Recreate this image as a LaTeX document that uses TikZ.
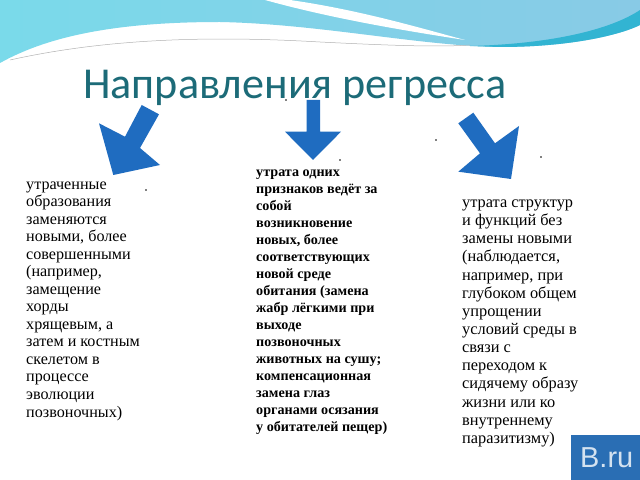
\documentclass[tikz,border=0pt]{standalone}
\usepackage{fontspec}
\setmainfont{Liberation Serif}
\newfontfamily\ktitlefont{Carlito}
\newfontfamily\kmarkfont{Liberation Sans}
\definecolor{karrowblue}{RGB}{31,108,192}
\definecolor{ktitleteal}{RGB}{28,107,120}
\definecolor{kskycyan}{RGB}{122,218,234}
\definecolor{kskyblue}{RGB}{136,202,230}
\definecolor{kband}{RGB}{50,180,210}
\definecolor{kmark}{RGB}{42,110,180}
\tikzset{
  kcol/.style={anchor=base west,align=left,inner sep=0pt},
  karrow/.style={fill=karrowblue,draw=none},
}
\begin{document}
\begin{tikzpicture}[x=1bp,y=-1bp]
\useasboundingbox (0,0) rectangle (640,480);
\fill[white] (0,0) rectangle (640,480);
% wave on top
\shade[left color=kskycyan,right color=kskyblue] (0,0) -- (640,0) -- (640,25) .. controls (620,35) and (570,47) .. (500,47) .. controls (420,46) and (320,24) .. (220,22) .. controls (120,22) and (50,35) .. (0,63) -- cycle;
\fill[white] (290,0) .. controls (360,10) and (420,28) .. (465,40) .. controls (400,30) and (330,18) .. (265,0) -- cycle;
\fill[kband] (470,46) .. controls (550,44) and (610,30) .. (640,10) -- (640,25) .. controls (620,35) and (570,47) .. (500,47) -- cycle;
\draw[gray!60,line width=0.5] (10,60) .. controls (100,40) and (200,35) .. (320,42) .. controls (400,46) and (440,47) .. (470,45);
% title
\node[anchor=base west,inner sep=0pt,text=ktitleteal,font=\ktitlefont\fontsize{44.3}{44.3}\selectfont] (title) at (83,99) {Направления регресса};
% arrows
\fill[karrow] (141.7,105) -- (159,114.3) -- (140,148) -- (160,165) -- (113.3,175) -- (99,123.3) -- (125,136.7) -- cycle;
\fill[karrow] (306.7,100) -- (320,100) -- (320,131.7) -- (341,131.7) -- (313,160) -- (285,131.7) -- (306.7,131.7) -- cycle;
\fill[karrow] (458.3,123.3) -- (473.3,112.7) -- (495,143.3) -- (519,126) -- (511,179) -- (458.3,171.7) -- (480,153.3) -- cycle;
% texts (base = last line)
\node[kcol,font=\fontsize{16.2}{17.6}\selectfont] (replaced) at (26,417) {утраченные\\образования\\заменяются\\новыми, более\\совершенными\\(например,\\замещение\\хорды\\хрящевым, а\\затем и костным\\скелетом в\\процессе\\эволюции\\позвоночных)};
\node[kcol,font=\bfseries\fontsize{14.2}{17.05}\selectfont] (swapped) at (256,431.7) {утрата одних\\признаков ведёт за\\собой\\возникновение\\новых, более\\соответствующих\\новой среде\\обитания (замена\\жабр лёгкими при\\выходе\\позвоночных\\животных на сушу;\\компенсационная\\замена глаз\\органами осязания\\у обитателей пещер)};
\node[kcol,font=\fontsize{16.4}{18.2}\selectfont] (lost) at (462,443.3) {утрата структур\\и функций без\\замены новыми\\(наблюдается,\\например, при\\глубоком общем\\упрощении\\условий среды в\\связи с\\переходом к\\сидячему образу\\жизни или ко\\внутреннему\\паразитизму)};
% specks
\foreach \kx/\ky in {146/190,340/160,436/140,541/157,286/100}{\fill (\kx,\ky) circle (0.8);}
% mark in the corner
\fill[kmark] (571,435) rectangle (640,480);
\node[anchor=base west,inner sep=0pt,text=white!80!kmark,font=\kmarkfont\fontsize{29}{29}\selectfont] (mark) at (580,467) {B.ru};
\end{tikzpicture}
\end{document}
